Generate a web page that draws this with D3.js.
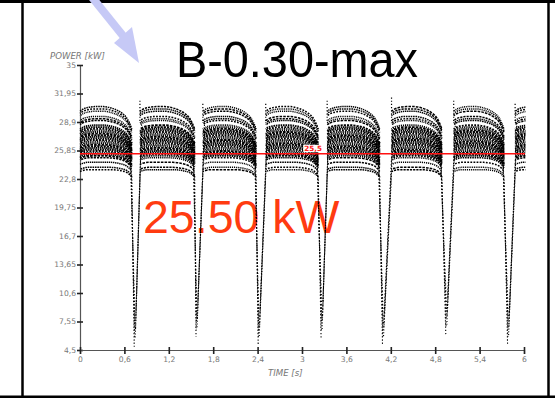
<!DOCTYPE html>
<html><head><meta charset="utf-8">
<script src="https://cdn.jsdelivr.net/npm/d3@7"></script>
<style>html,body{margin:0;padding:0;background:#fff;}svg{display:block;}</style>
</head><body>
<script>
// ---- data ----
const yTickValues = [4.5, 7.55, 10.6, 13.65, 16.7, 19.75, 22.8, 25.85, 28.9, 31.95, 35];
const xTickValues = [0, 0.6, 1.2, 1.8, 2.4, 3, 3.6, 4.2, 4.8, 5.4, 6];
// plateau segments between compressor dips (s)
const segStart = [0.00, 0.81, 1.66, 2.51, 3.34, 4.21, 5.05, 5.88];
const segEnd   = [0.70, 1.55, 2.38, 3.22, 4.05, 4.89, 5.73, 6.58];
// spike maxima at segment starts (kW)
const spikeTop = [null, 31.25, 30.9, 31.0, 31.4, 31.6, 31.25, 30.9];
// dips (s, kW)
const dipTime = [0.745, 1.58, 2.42, 3.27, 4.10, 4.955, 5.79];
const dipMin  = [4.85, 5.93, 5.0, 5.75, 5.0, 6.2, 5.1];
// power levels of the point strands at the plateau crest (kW)
const strandLevels = [30.55, 30.3, 30.05, 29.5, 29.25, 29.05, 28.55, 28.35, 28.17, 28.0, 27.83, 27.66,
  27.49, 27.32, 27.15, 26.98, 26.81, 26.64, 26.47, 26.3, 26.13, 25.96, 25.79, 25.62, 25.45, 25.28,
  25.08, 24.6, 24.05, 23.8];
// plateau shape (offset in kW vs. fraction of segment) for top and bottom strands
const profileU   = [0, 0.05, 0.15, 0.3, 0.45, 0.6, 0.72, 0.82, 0.9, 0.95, 1];
const topDrop    = [-0.5, -0.3, -0.1, 0, 0, -0.15, -0.4, -0.75, -1.2, -1.7, -2.4];
const bottomDrop = [-0.2, -0.1, 0, 0, 0, 0, -0.05, -0.15, -0.3, -0.5, -0.8];
// levels where dip strands leave / rejoin the band (kW)
const dipFallLevels = [23.1, 24.0, 25.2, 26.6];
const dipRiseLevels = [23.4, 25.0, 27.0, 29.0];
const setPoint = 25.5;

const W = 555, H = 398;
const svg = d3.select("body").append("svg").attr("width", W).attr("height", H);

// frame
svg.append("line").attr("x1",0).attr("x2",W).attr("y1",1.5).attr("y2",1.5).attr("stroke","#000").attr("stroke-width",3);
svg.append("line").attr("x1",0).attr("x2",W).attr("y1",396.8).attr("y2",396.8).attr("stroke","#000").attr("stroke-width",2.5);
svg.append("line").attr("x1",22.5).attr("x2",22.5).attr("y1",0).attr("y2",H).attr("stroke","#000").attr("stroke-width",2.5);
svg.append("line").attr("x1",548.5).attr("x2",548.5).attr("y1",0).attr("y2",H).attr("stroke","#000").attr("stroke-width",2.5);

// arrow
svg.append("line").attr("x1",91).attr("y1",-4).attr("x2",124).attr("y2",37)
  .attr("stroke","#c6c9f6").attr("stroke-width",8);
svg.append("polygon").attr("points","114,43 132,27 139,63").attr("fill","#c6c9f6");

// title
svg.append("text").attr("x",176).attr("y",77).attr("font-family","Liberation Sans, Arial, sans-serif")
  .attr("font-size",50).attr("textLength",242).attr("lengthAdjust","spacingAndGlyphs")
  .attr("fill","#000").text("B-0.30-max");

const x = d3.scaleLinear().domain([0, 6]).range([80, 524]);
const y = d3.scaleLinear().domain([4.5, 35]).range([350, 65]);
const fmt = d => String(d).replace(".", ",");

// big red label (under data)
svg.append("text").attr("x",143).attr("y",233).attr("font-family","Liberation Sans, Arial, sans-serif")
  .attr("font-size",46.5).attr("fill","#ff3b10").text("25.50 kW");

// axes
const axisColor = "#555";
const gy = svg.append("g").attr("transform","translate(80,0)")
  .call(d3.axisLeft(y).tickValues(yTickValues).tickFormat(fmt).tickSize(3));
const gx = svg.append("g").attr("transform","translate(0,350)")
  .call(d3.axisBottom(x).tickValues(xTickValues).tickFormat(fmt).tickSize(4));
[gy, gx].forEach(g => {
  g.select(".domain").attr("stroke", axisColor).attr("stroke-width",1.2);
  g.selectAll(".tick line").attr("stroke","#222").attr("stroke-width",1.6);
  g.selectAll("text").attr("fill","#777").attr("font-family","DejaVu Sans, Verdana, sans-serif").attr("font-size",7.6);
});
gy.selectAll(".tick line").attr("x2",3).attr("x1",-3);
gy.selectAll(".tick text").attr("x",-4);
gx.selectAll(".tick line").attr("y1",-3).attr("y2",4);
gx.selectAll(".tick text").attr("y",7);

svg.append("text").attr("x",50).attr("y",58.5).attr("font-family","DejaVu Sans, Verdana, sans-serif")
  .attr("font-style","italic").attr("font-size",8.6).attr("fill","#777").text("POWER [kW]");
svg.append("text").attr("x",268).attr("y",376).attr("font-family","DejaVu Sans, Verdana, sans-serif")
  .attr("font-style","italic").attr("font-size",8.6).attr("fill","#777").text("TIME [s]");

// data
svg.append("clipPath").attr("id","plot").append("rect").attr("x",78).attr("y",60).attr("width",447.5).attr("height",292);
const data = svg.append("g").attr("clip-path","url(#plot)");
const line = d3.line().x(d => x(d[0])).y(d => y(d[1])).curve(d3.curveMonotoneX);
const lineLin = d3.line().x(d => x(d[0])).y(d => y(d[1]));
const dashes = ["1.6 0.8", "2.2 1.0", "1.2 0.9", "1.8 1.3", "1.4 0.7", "2.6 1.1", "1.0 0.8"];

const lTop = strandLevels[0], lBot = strandLevels[strandLevels.length - 1];
segStart.forEach((s, si) => {
  const e = segEnd[si];
  strandLevels.forEach((L, li) => {
    const w = (L - lBot) / (lTop - lBot);
    const pts = profileU.map((u, k) => [s + u * (e - s), L + bottomDrop[k] + w * (topDrop[k] - bottomDrop[k])]);
    data.append("path").attr("d", line(pts)).attr("fill","none")
      .attr("stroke","#000").attr("stroke-width", (L > 25.2 && L < 28.6) ? 1.9 : 1.5)
      .attr("stroke-dasharray", dashes[(li * 3 + si) % dashes.length])
      .attr("stroke-dashoffset", (li * 1.3 + si * 0.7) % 2.9);
  });
  if (spikeTop[si] != null) {
    data.append("path").attr("d", lineLin([[s, 29], [s, spikeTop[si]]])).attr("fill","none")
      .attr("stroke","#000").attr("stroke-width",1.2).attr("stroke-dasharray","1.2 2");
  }
});

dipTime.forEach((t, di) => {
  const e = segEnd[di], sNext = segStart[di + 1];
  dipFallLevels.forEach((L, k) => {
    data.append("path").attr("d", lineLin([[e - k * 0.008, L], [t - 0.012 + k * 0.004, dipMin[di] + k * 0.8]])).attr("fill","none")
      .attr("stroke","#000").attr("stroke-width",1.1).attr("stroke-dasharray", k % 2 ? "1.1 2.4" : "1.3 1.9");
  });
  dipRiseLevels.forEach((L, k) => {
    data.append("path").attr("d", lineLin([[t + 0.002 + k * 0.004, dipMin[di] + 1 + k], [sNext + k * 0.008, L]])).attr("fill","none")
      .attr("stroke","#000").attr("stroke-width",1.1).attr("stroke-dasharray", k % 2 ? "1.2 2.2" : "1.0 1.8");
  });
});

// set-point line
svg.append("line").attr("x1",x(0)).attr("x2",x(6) + 1).attr("y1",y(setPoint)).attr("y2",y(setPoint))
  .attr("stroke","#ff1010").attr("stroke-width",1.6);
const lbl = svg.append("text").attr("x",x(3.15)).attr("y",y(setPoint) - 2.5).attr("text-anchor","middle")
  .attr("font-family","DejaVu Sans, Verdana, sans-serif").attr("font-weight","bold").attr("font-size",7.2)
  .attr("fill","#ff2020").text(fmt(setPoint));
const bb = lbl.node().getBBox();
svg.insert("rect", () => lbl.node()).attr("x", bb.x - 1).attr("y", bb.y + 0.5).attr("width", bb.width + 2)
  .attr("height", bb.height - 1.5).attr("fill","#fff");
</script>
</body></html>
